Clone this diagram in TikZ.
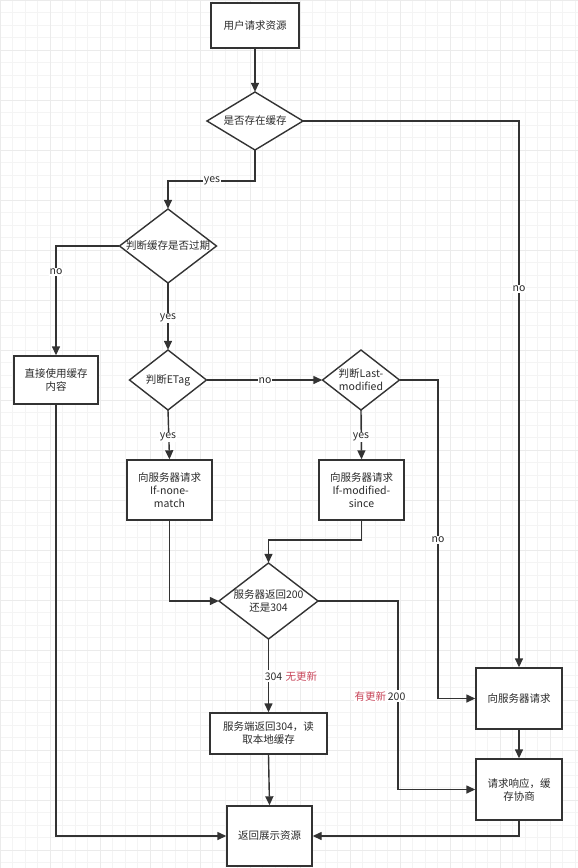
\documentclass[tikz,border=0pt]{standalone}
\usepackage{fontspec}
\setmainfont{Noto Sans CJK SC}
\newfontfamily\cjk{Noto Sans CJK SC}
\usetikzlibrary{shapes.geometric,arrows.meta}
\definecolor{ln}{HTML}{333333}
\definecolor{redtxt}{HTML}{C8465A}
\tikzset{
  every node/.style={font=\cjk\fontsize{10.5}{13}\selectfont, text=ln!85!black},
  boxn/.style={draw=ln, line width=1.4pt, fill=white, align=center, inner sep=0pt},
  dia/.style={align=center, inner sep=0pt,
    append after command={\pgfextra{\let\dianame\tikzlastnode}
      [draw=ln, line width=1.4pt, fill=white] (\tikzlastnode.north) -- (\tikzlastnode.east) -- (\tikzlastnode.south) -- (\tikzlastnode.west) -- cycle}},
  arr/.style={draw=ln, line width=1.4pt, -{Triangle[length=9pt,width=8pt]}},
  lbl/.style={fill=white, inner sep=1pt, font=\cjk\fontsize{10.5}{12}\selectfont},
}
\newcommand{\mydiamond}[5]{% name, x, y, w, h
  \path[draw=ln, line width=1.4pt, fill=white] (#2,#3-#5/2) -- (#2+#4/2,#3) -- (#2,#3+#5/2) -- (#2-#4/2,#3) -- cycle;
  \node[inner sep=0pt, minimum width=#4pt, minimum height=#5pt] (#1) at (#2,#3) {};
}
\begin{document}
\begin{tikzpicture}[x=1pt,y=-1pt]
\useasboundingbox (0,0) rectangle (578,868);
\fill[white] (0,0) rectangle (578,868);
% faint grid
\foreach \i in {0,12.5,...,580} {\draw[gray!9, line width=0.6pt] (\i,0) -- (\i,868);}
\foreach \j in {0,12.5,...,870} {\draw[gray!9, line width=0.6pt] (0,\j) -- (578,\j);}
\foreach \i in {0,50,...,578} {\draw[gray!16, line width=0.8pt] (\i,0) -- (\i,868);}
\foreach \j in {0,50,...,868} {\draw[gray!16, line width=0.8pt] (0,\j) -- (578,\j);}

% diamond outlines (drawn first, named frames)
\mydiamond{exist}{255}{121}{96}{58}
\mydiamond{expire}{168}{246}{97}{74}
\mydiamond{etag}{168}{380}{77}{60}
\mydiamond{lastmod}{361}{380}{77}{60}
\mydiamond{ret}{268.5}{601}{99}{76}

% diamond texts
\node[align=center] at (exist) {是否存在缓存};
\node[align=center] at (expire) {判断缓存是否过期};
\node[align=center] at (etag) {判断ETag};
\node[align=center] at (lastmod) {判断Last-\\modified};
\node[align=center] at (ret) {服务器返回200\\还是304};

% boxes
\node[boxn, minimum width=88pt, minimum height=45pt] (start) at (255,25.5) {用户请求资源};
\node[boxn, minimum width=84pt, minimum height=48pt] (usecache) at (56,380) {直接使用缓存\\内容};
\node[boxn, minimum width=85pt, minimum height=60pt] (inm) at (169.5,490) {向服务器请求\\If-none-\\match};
\node[boxn, minimum width=85pt, minimum height=60pt] (ims) at (361.5,490) {向服务器请求\\If-modified-\\since};
\node[boxn, minimum width=117pt, minimum height=41pt] (local) at (268.5,733.5) {服务端返回304，读\\取本地缓存};
\node[boxn, minimum width=85pt, minimum height=60pt] (show) at (269.5,836) {返回展示资源};
\node[boxn, minimum width=86pt, minimum height=61pt] (req) at (519,698.5) {向服务器请求};
\node[boxn, minimum width=86pt, minimum height=61pt] (resp) at (519,789.5) {请求响应，缓\\存协商};

% coordinates for bends
\coordinate (b1) at (255,181);
\coordinate (b3) at (438,380);
\coordinate (b4) at (169.5,601);
\coordinate (b5) at (361.5,540);
\coordinate (b6) at (398,601);
\coordinate (b7) at (56,836);
\coordinate (b8) at (519,121);
\coordinate (b9) at (519,836);

% connectors
\draw[arr] (start.south) -- (exist.north);
\draw[arr] (exist.south) -- (b1) -| (expire.north);
\draw[arr] (expire.west) -| (usecache.north);
\draw[arr] (expire.south) -- (etag.north);
\draw[arr] (etag.east) -- (lastmod.west);
\draw[arr] (etag.south) -- (inm.north);
\draw[arr] (lastmod.south) -- (ims.north);
\draw[arr] (lastmod.east) -- (b3) |- (req.west);
\draw[arr] (inm.south) -- (b4) -- (ret.west);
\draw[arr] (ims.south) -- (b5) -| (ret.north);
\draw[arr] (ret.east) -- (b6) |- (resp.west);
\draw[arr] (ret.south) -- (local.north);
\draw[arr] (local.south) -- (show.north);
\draw[arr] (usecache.south) -- (b7) -- (show.west);
\draw[arr] (exist.east) -- (b8) -- (req.north);
\draw[arr] (req.south) -- (resp.north);
\draw[arr] (resp.south) -- (b9) -- (show.east);

% labels
\node[lbl] at (212,181) {yes};
\node[lbl] at (56,272) {no};
\node[lbl] at (168,318) {yes};
\node[lbl] at (265,381) {no};
\node[lbl] at (168,437) {yes};
\node[lbl] at (361,437) {yes};
\node[lbl] at (438,540) {no};
\node[lbl] at (519,289) {no};
\node[lbl] at (291,676) {304\,\,\textcolor{redtxt}{无更新}};
\node[lbl] at (380,696) {\textcolor{redtxt}{有更新}\,200};
\end{tikzpicture}
\end{document}
